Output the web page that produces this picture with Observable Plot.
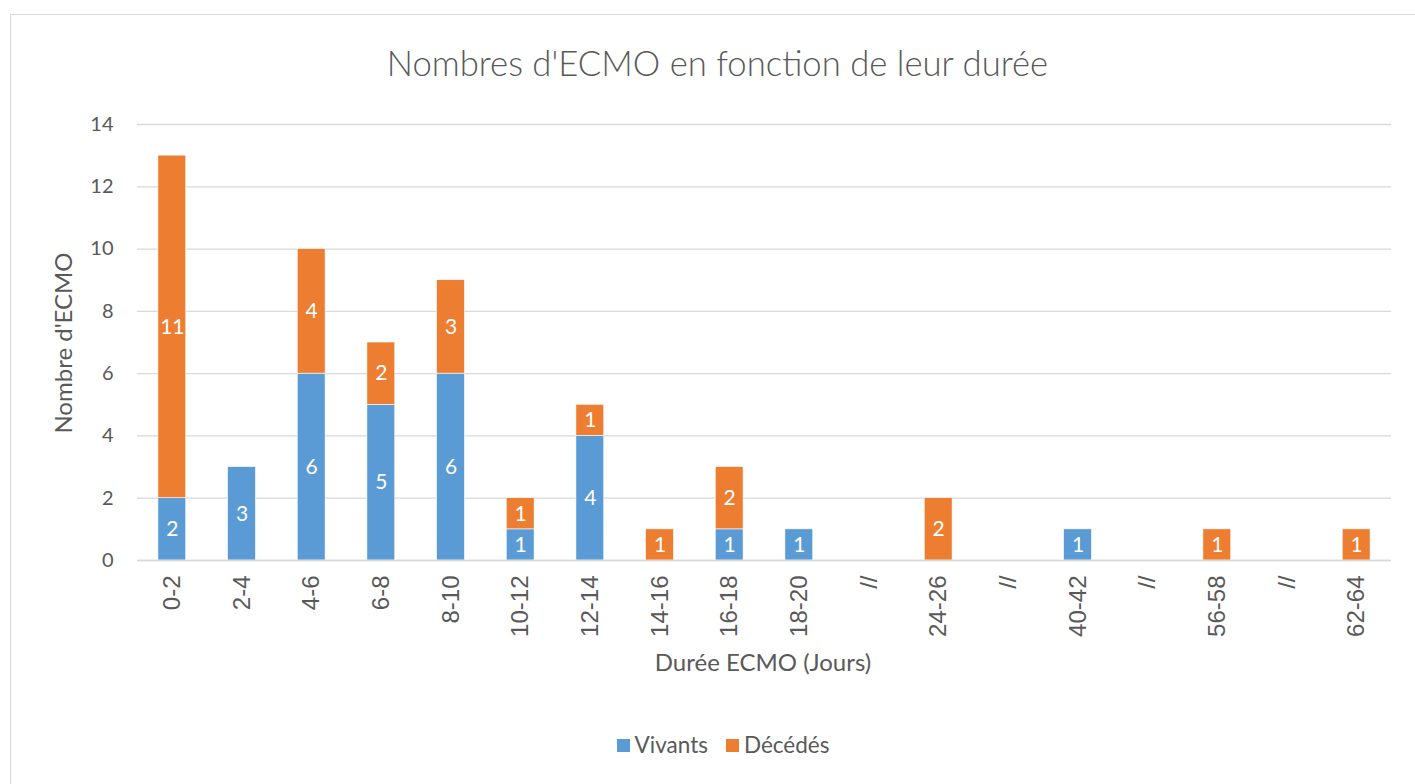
<!DOCTYPE html>
<html>
<head>
<meta charset="utf-8">
<script src="https://cdn.jsdelivr.net/npm/d3@7"></script>
<script src="https://cdn.jsdelivr.net/npm/@observablehq/plot@0.6"></script>
<style>
  html, body { margin: 0; padding: 0; background: #fff; }
  #wrap { position: relative; width: 1415px; height: 784px; overflow: hidden; font-family: Lato, "Open Sans", sans-serif; color: #595959; }
  #frame { position: absolute; left: 10px; top: 14px; width: 1410px; height: 800px; border: 1.5px solid #D9D9D9; box-sizing: border-box; }
  #title { position: absolute; left: 0; width: 1415px; padding-left: 20px; box-sizing: border-box; top: 41px; text-align: center; font-size: 34.7px; font-weight: 300; line-height: 44px; color: #595959; }
  #chart { position: absolute; left: 0; top: 0; }
  #legend { position: absolute; top: 731px; left: 0; width: 1415px; display: flex; justify-content: center; font-size: 22.5px; line-height: 28px; padding-left: 31px; box-sizing: border-box; }
  .item { display: flex; align-items: center; margin: 0 9px; }
  .sw { width: 13px; height: 13px; margin-right: 5px; }
</style>
</head>
<body>
<div id="wrap">
  <div id="frame"></div>
  <div id="chart"></div>
  <div id="title">Nombres d'ECMO en fonction de leur durée</div>
  <div id="legend"></div>
</div>
<script>
const categories = ["0-2","2-4","4-6","6-8","8-10","10-12","12-14","14-16","16-18","18-20","//","24-26","//","40-42","//","56-58","//","62-64"];
const vivants = [2,3,6,5,6,1,4,0,1,1,0,0,0,1,0,0,0,0];
const decedes = [11,0,4,2,3,1,1,1,2,0,0,2,0,0,0,1,0,1];
const seriesNames = ["Vivants","Décédés"];
const seriesColors = ["#5B9BD5","#ED7D31"];
const yTicks = [0,2,4,6,8,10,12,14];

const rows = [];
categories.forEach((c, i) => {
  if (vivants[i] > 0) rows.push({i, serie: seriesNames[0], value: vivants[i]});
  if (decedes[i] > 0) rows.push({i, serie: seriesNames[1], value: decedes[i]});
});

const W = 1415, H = 784;
const chart = Plot.plot({
  width: W, height: H,
  marginLeft: 137, marginRight: 24, marginTop: 124, marginBottom: 224,
  style: { fontFamily: "Lato, 'Open Sans', sans-serif", color: "#595959", background: "transparent" },
  x: { domain: d3.range(categories.length), paddingInner: 0.6, paddingOuter: 0.3, round: false },
  y: { domain: [0, 14] },
  color: { domain: seriesNames, range: seriesColors },
  marks: [
    Plot.gridY(yTicks, { stroke: "#D9D9D9", strokeOpacity: 1, strokeWidth: 1.3 }),
    Plot.axisY(yTicks, { tickSize: 0, tickPadding: 24, fontSize: 20, fill: "#595959", label: null }),
    Plot.axisX({ tickSize: 0, tickPadding: 15, tickRotate: -90, tickFormat: i => categories[i],
      fontSize: 24, fontFamily: "'Liberation Sans', Arial, sans-serif", fill: "#595959",
      label: null }),
    Plot.barY(rows, Plot.stackY({ x: "i", y: "value", fill: "serie", order: seriesNames, stroke: "#fff", strokeWidth: 0.6 })),
    Plot.ruleY([0], { stroke: "#D9D9D9", strokeWidth: 1.3 }),
    Plot.text(rows, Plot.stackY({ x: "i", y: "value", z: "serie", order: seriesNames, text: "value", fill: "#fff", fontSize: 21 })),
  ]
});
document.getElementById("chart").appendChild(chart);

// axis titles as svg text
const svg = d3.select(chart);
svg.append("text").attr("x", 763).attr("y", 665).attr("text-anchor", "middle").attr("dominant-baseline", "middle")
  .attr("font-size", 24).attr("fill", "#595959").attr("font-family", "Lato, 'Open Sans', sans-serif").text("Durée ECMO (Jours)");
svg.append("text").attr("transform", "translate(66,343) rotate(-90)").attr("text-anchor", "middle").attr("dominant-baseline", "middle")
  .attr("font-size", 24).attr("fill", "#595959").attr("font-family", "Lato, 'Open Sans', sans-serif").text("Nombre d'ECMO");

const legend = document.getElementById("legend");
seriesNames.forEach((n, k) => {
  const it = document.createElement("div"); it.className = "item";
  const sw = document.createElement("div"); sw.className = "sw"; sw.style.background = seriesColors[k];
  const t = document.createElement("span"); t.textContent = n;
  it.appendChild(sw); it.appendChild(t); legend.appendChild(it);
});
</script>
</body>
</html>
